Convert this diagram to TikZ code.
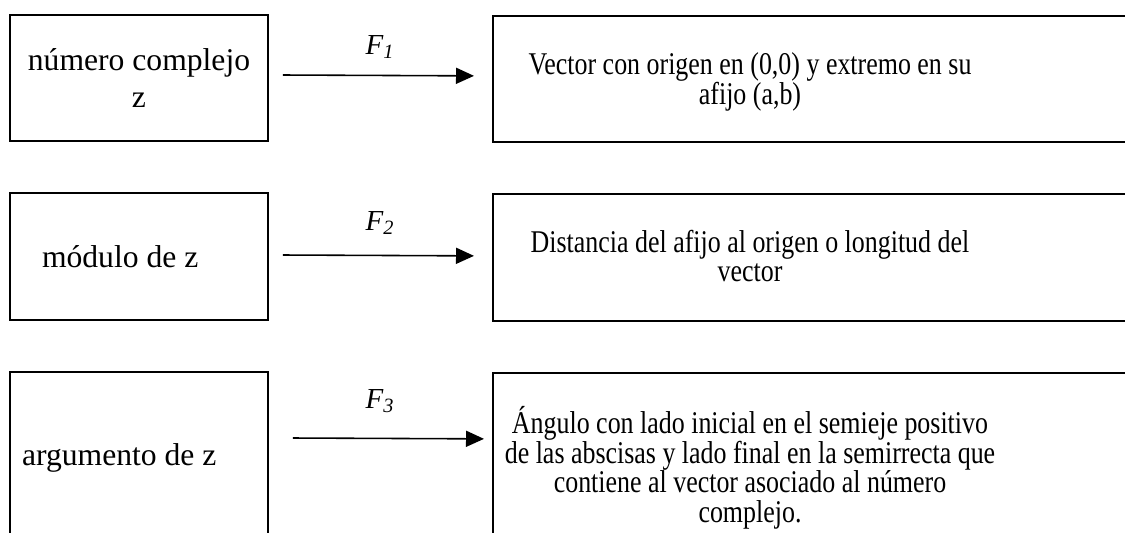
\documentclass[tikz,border=0pt]{standalone}
\usepackage{fontspec}
\setmainfont{Liberation Serif}
\newfontfamily\narrowserif{Liberation Serif}[FakeStretch=0.82]
\usetikzlibrary{positioning, arrows.meta, calc}
\tikzset{
    leftbox/.style={draw, line width=1pt, minimum width=5.16cm, inner sep=0pt},
    rightbox/.style={draw, line width=1pt, minimum width=13.2cm, anchor=north west, inner sep=0pt},
    lefttext/.style={font=\fontsize{18}{20.7}\selectfont},
    righttext/.style={align=center, font=\narrowserif\fontsize{18}{16.8}\selectfont},
    flabel/.style={font=\fontsize{16.5}{18}\selectfont\itshape},
    maparrow/.style={-{Triangle[length=3.6mm, width=3.2mm]}, line width=0.9pt},
}

\begin{document}
\begin{tikzpicture}[x=0.02cm, y=-0.02cm]
\useasboundingbox (0,0) rectangle (1125,532);
\clip (0,0) rectangle (1125,532);

% first row
\node[leftbox, lefttext, align=center, minimum height=2.52cm] (num) at (139,78) {número complejo\\z};
\node[rightbox, minimum height=2.52cm] (vecbox) at (492,15) {};
\node[righttext] (vec) at (750,82) {Vector con origen en (0,0) y extremo en su\\afijo (a,b)};
\node[flabel] (f1) at (380,47) {F\textsubscript{1}};
\draw[maparrow] ($(num.east)+(14,-3)$) -- ($(vecbox.west)+(-18,-3)$);

% second row
\node[leftbox, lefttext, align=flush left, text width=3.88cm, inner xsep=0.64cm, minimum height=2.54cm] (mod) at (139,256.5) {módulo de z};
\node[rightbox, minimum height=2.54cm] (distbox) at (492,193) {};
\node[righttext] (dist) at (750,256) {Distancia del afijo al origen o longitud del\\vector};
\node[flabel] (f2) at (380,223) {F\textsubscript{2}};
\draw[maparrow] ($(mod.east)+(14,-1.5)$) -- ($(distbox.west)+(-18,-1.5)$);

% third row
\node[leftbox, lefttext, align=flush left, text width=4.68cm, inner xsep=0.24cm, minimum height=3.44cm] (arg) at (139,458) {argumento de z};
\node[rightbox, minimum height=3.44cm] (angbox) at (492,372) {};
\node[righttext] (ang) at (750,468) {Ángulo con lado inicial en el semieje positivo\\de las abscisas y lado final en la semirrecta que\\contiene al vector asociado al número\\complejo.};
\node[flabel] (f3) at (380,401) {F\textsubscript{3}};
\draw[maparrow] ($(arg.east)+(24,-20)$) -- ($(angbox.west)+(-8,-20)$);
\end{tikzpicture}
\end{document}
